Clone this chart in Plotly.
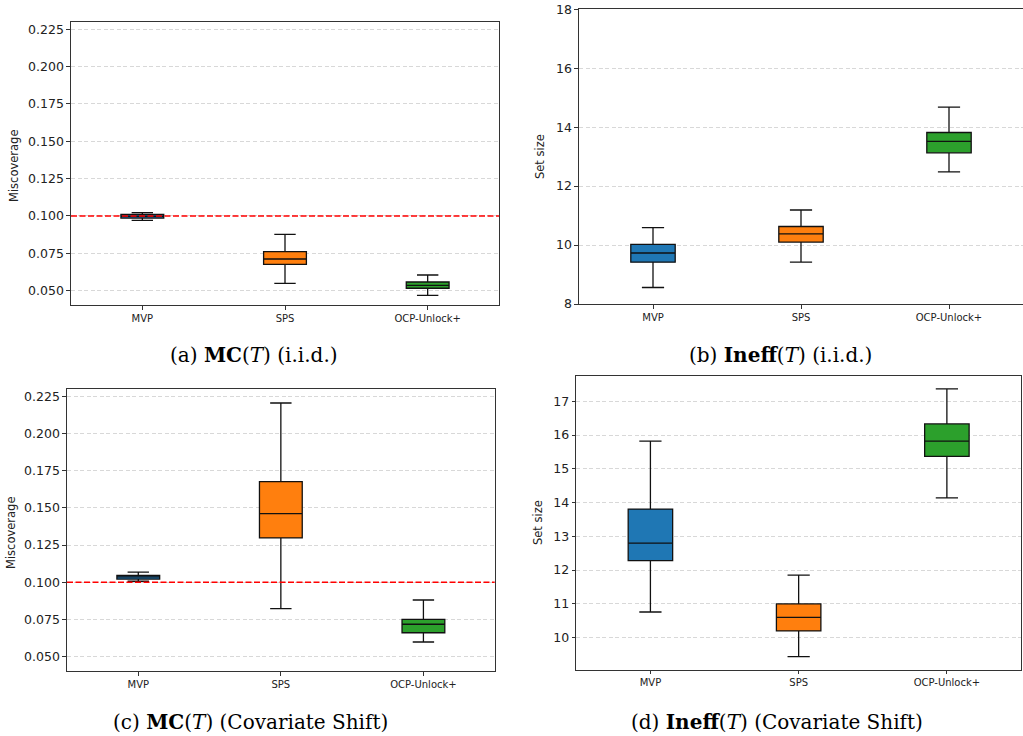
import plotly.graph_objects as go

methods = ["MVP", "SPS", "OCP-Unlock+"]
colors = ["#1f77b4", "#ff7f0e", "#2ca02c"]

# (a) MC(T) i.i.d.
mc_iid_lower = [0.0970, 0.0549, 0.0469]
mc_iid_q1 = [0.0986, 0.0676, 0.0516]
mc_iid_median = [0.0997, 0.0712, 0.0536]
mc_iid_q3 = [0.1010, 0.0761, 0.0558]
mc_iid_upper = [0.1023, 0.0877, 0.0605]

# (b) Ineff(T) i.i.d.
ineff_iid_lower = [8.56, 9.42, 12.48]
ineff_iid_q1 = [9.42, 10.10, 13.13]
ineff_iid_median = [9.73, 10.38, 13.52]
ineff_iid_q3 = [10.02, 10.63, 13.82]
ineff_iid_upper = [10.59, 11.19, 14.68]

# (c) MC(T) covariate shift
mc_cs_lower = [0.1007, 0.0823, 0.0599]
mc_cs_q1 = [0.1022, 0.1298, 0.0661]
mc_cs_median = [0.1036, 0.1461, 0.0718]
mc_cs_q3 = [0.1047, 0.1676, 0.0751]
mc_cs_upper = [0.1069, 0.2205, 0.0881]

# (d) Ineff(T) covariate shift
ineff_cs_lower = [10.76, 9.44, 14.14]
ineff_cs_q1 = [12.28, 10.20, 15.37]
ineff_cs_median = [12.80, 10.60, 15.82]
ineff_cs_q3 = [13.81, 11.00, 16.33]
ineff_cs_upper = [15.82, 11.85, 17.37]

target_level = 0.1

mc_ticks = [0.050, 0.075, 0.100, 0.125, 0.150, 0.175, 0.200, 0.225]
ineff_iid_ticks = [8, 10, 12, 14, 16, 18]
ineff_cs_ticks = [10, 11, 12, 13, 14, 15, 16, 17]

captions = [
    "(a) <b>MC</b>(<i>T</i>) (i.i.d.)",
    "(b) <b>Ineff</b>(<i>T</i>) (i.i.d.)",
    "(c) <b>MC</b>(<i>T</i>) (Covariate Shift)",
    "(d) <b>Ineff</b>(<i>T</i>) (Covariate Shift)",
]
ylabels = ["Miscoverage", "Set size", "Miscoverage", "Set size"]

W, H = 1023, 736

panels = [
    dict(data=(mc_iid_lower, mc_iid_q1, mc_iid_median, mc_iid_q3, mc_iid_upper),
         px=(71, 499), py=(22, 305), yr=[0.0404, 0.2299], ticks=mc_ticks, fmt=".3f",
         ref=True, cap=(254, 355), lab=(14, 166)),
    dict(data=(ineff_iid_lower, ineff_iid_q1, ineff_iid_median, ineff_iid_q3, ineff_iid_upper),
         px=(579, 1023), py=(9.3, 304), yr=[8, 18], ticks=ineff_iid_ticks, fmt="d",
         ref=False, cap=(780, 355), lab=(540, 157)),
    dict(data=(mc_cs_lower, mc_cs_q1, mc_cs_median, mc_cs_q3, mc_cs_upper),
         px=(67, 494.7), py=(389, 671), yr=[0.0404, 0.2299], ticks=mc_ticks, fmt=".3f",
         ref=True, cap=(250, 722), lab=(11, 533)),
    dict(data=(ineff_cs_lower, ineff_cs_q1, ineff_cs_median, ineff_cs_q3, ineff_cs_upper),
         px=(576.3, 1021), py=(375.7, 669.7), yr=[9.05, 17.76], ticks=ineff_cs_ticks, fmt="d",
         ref=False, cap=(777, 722), lab=(538, 523)),
]

fig = go.Figure()
layout = dict(
    template="none",
    width=W, height=H, margin=dict(l=0, r=0, t=0, b=0, pad=0, autoexpand=False),
    paper_bgcolor="white", plot_bgcolor="white",
    showlegend=False, boxmode="overlay",
    font=dict(family="DejaVu Sans", color="#222222"),
)
shapes = []
annotations = []

for i, p in enumerate(panels):
    k = "" if i == 0 else str(i + 1)
    xa, ya = "x" + k, "y" + k
    lower, q1, med, q3, upper = p["data"]
    for j, m in enumerate(methods):
        fig.add_trace(go.Box(
            x=[m], lowerfence=[lower[j]], q1=[q1[j]], median=[med[j]], q3=[q3[j]],
            upperfence=[upper[j]], fillcolor=colors[j],
            line=dict(color="#111111", width=1.3), width=0.3, whiskerwidth=0.5,
            boxpoints=False, xaxis=xa, yaxis=ya, hoverinfo="skip",
        ))
    x0, x1 = p["px"]
    yt, yb = p["py"]
    layout["xaxis" + k] = dict(
        domain=[x0 / W, x1 / W], anchor=ya, type="category", automargin=False,
        categoryorder="array", categoryarray=methods, range=[-0.5, 2.5],
        showline=True, mirror=True, linecolor="#333333", linewidth=1.2,
        ticks="outside", ticklen=3.5, tickwidth=1, tickcolor="#333333",
        tickfont=dict(size=10, color="#222222"), showgrid=False, zeroline=False,
    )
    layout["yaxis" + k] = dict(
        domain=[1 - yb / H, 1 - yt / H], anchor=xa, range=p["yr"], automargin=False,
        tickvals=p["ticks"], tickformat=p["fmt"],
        showline=True, mirror=True, linecolor="#333333", linewidth=1.2,
        ticks="outside", ticklen=3.5, tickwidth=1, tickcolor="#333333",
        tickfont=dict(size=12.5, color="#222222"),
        showgrid=True, gridcolor="#d8d8d8", gridwidth=1, griddash="4px,2.5px",
        zeroline=False,
    )
    if p["ref"]:
        shapes.append(dict(
            type="line", xref=xa + " domain", yref=ya, x0=0, x1=1,
            y0=target_level, y1=target_level,
            line=dict(color="red", width=1.5, dash="6px,2.5px"), layer="above",
        ))
    cx, cy = p["cap"]
    annotations.append(dict(
        text=captions[i], x=cx / W, y=1 - cy / H, xref="paper", yref="paper",
        showarrow=False, xanchor="center", yanchor="middle",
        font=dict(family="DejaVu Serif", size=20, color="black"),
    ))
    lx, ly = p["lab"]
    annotations.append(dict(
        text=ylabels[i], x=lx / W, y=1 - ly / H, xref="paper", yref="paper",
        showarrow=False, xanchor="center", yanchor="middle", textangle=-90,
        font=dict(family="DejaVu Sans", size=11.5, color="#222222"),
    ))

layout["shapes"] = shapes
layout["annotations"] = annotations
fig.update_layout(**layout)
fig.write_html("out.html", config={"displayModeBar": False},
               post_script="document.body.style.margin='0px';")
